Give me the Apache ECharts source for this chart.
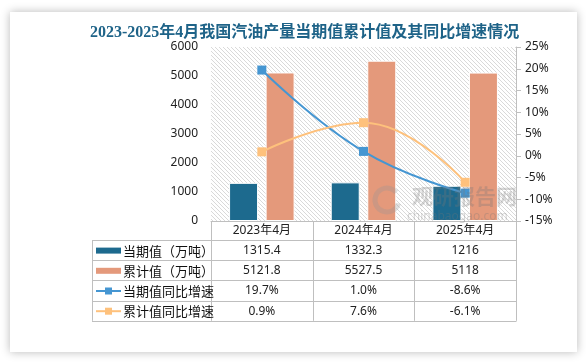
<!DOCTYPE html>
<html>
<head>
<meta charset="utf-8">
<script src="https://cdn.jsdelivr.net/npm/echarts@6/dist/echarts.min.js"></script>
<style>
html,body{margin:0;padding:0;background:#ffffff;}
#card{position:absolute;left:10px;top:12px;width:567px;height:340px;background:#fff;box-shadow:0 0 9px rgba(0,0,0,0.28);}
#chart{position:absolute;left:0;top:0;width:586px;height:363px;}
</style>
</head>
<body>
<div id="card"></div>
<div id="chart"></div>
<script>
// ---- data ----
const titleText = '2023-2025年4月我国汽油产量当期值累计值及其同比增速情况';
const categories = ['2023年4月', '2024年4月', '2025年4月'];
const currentValues = [1315.4, 1332.3, 1216];        // 当期值（万吨）
const cumulativeValues = [5121.8, 5527.5, 5118];    // 累计值（万吨）
const currentGrowth = [19.7, 1.0, -8.6];            // 当期值同比增速 %
const cumulativeGrowth = [0.9, 7.6, -6.1];          // 累计值同比增速 %
const seriesNames = ['当期值（万吨）', '累计值（万吨）', '当期值同比增速', '累计值同比增速'];
const leftTicks = [0, 1000, 2000, 3000, 4000, 5000, 6000];
const rightTicks = [-15, -10, -5, 0, 5, 10, 15, 20, 25];

// ---- styles ----
const C_DARK = '#1d6a8e';
const C_ORANGE = '#e4997b';
const C_BLUE = '#4596d2';
const C_YEL = '#fec17c';
const GRID = {left: 211, right: 70, top: 47, bottom: 142};

// hatch pattern
const pc = document.createElement('canvas');
pc.width = 4; pc.height = 4;
const pctx = pc.getContext('2d');
pctx.fillStyle = '#ffffff'; pctx.fillRect(0, 0, 4, 4);
pctx.fillStyle = '#d9d9d9';
for (let i = 0; i < 4; i++) pctx.fillRect(i, i, 1, 1);

const chart = echarts.init(document.getElementById('chart'), null, {renderer: 'canvas'});
const FONT = '"Noto Sans", "Noto Sans CJK SC", sans-serif';

chart.setOption({
  animation: false,
  backgroundColor: 'transparent',
  title: {
    text: titleText, left: 85, top: 20,
    textStyle: {fontFamily: '"Liberation Serif", "Noto Sans CJK SC", serif', fontWeight: 'bold', fontSize: 16, color: '#1e6388'}
  },
  grid: {show: true, left: GRID.left, right: GRID.right, top: GRID.top, bottom: GRID.bottom,
    backgroundColor: {image: pc, repeat: 'repeat'}, borderWidth: 0},
  xAxis: {
    type: 'category', data: categories,
    axisLine: {show: true, lineStyle: {color: '#bfbfbf', width: 1}},
    axisTick: {show: false},
    axisLabel: {show: true, margin: 4, color: '#222', fontSize: 12, fontFamily: FONT}
  },
  yAxis: [
    {type: 'value', min: leftTicks[0], max: leftTicks[leftTicks.length - 1], interval: 1000,
      axisLine: {show: false}, axisTick: {show: false}, splitLine: {show: false},
      axisLabel: {margin: 13, color: '#222', fontSize: 12, fontFamily: FONT, formatter: (v) => String(v)}},
    {type: 'value', position: 'right', min: rightTicks[0], max: rightTicks[rightTicks.length - 1], interval: 5,
      axisLine: {show: true, lineStyle: {color: '#bfbfbf'}},
      axisTick: {show: true, length: 5, lineStyle: {color: '#bfbfbf'}},
      splitLine: {show: false},
      axisLabel: {margin: 9, color: '#222', fontSize: 12, fontFamily: FONT, formatter: (v) => v + '%'}}
  ],
  series: [
    {name: seriesNames[0], type: 'bar', data: currentValues, barWidth: 29, barGap: '26%',
      itemStyle: {color: C_DARK, borderColor: '#fff', borderWidth: 1}, z: 2},
    {name: seriesNames[1], type: 'bar', data: cumulativeValues, barWidth: 29,
      itemStyle: {color: C_ORANGE, borderColor: '#fff', borderWidth: 1}, z: 2},
    {name: seriesNames[2], type: 'line', yAxisIndex: 1, data: currentGrowth, smooth: 0.45,
      symbol: 'rect', symbolSize: 9, lineStyle: {color: C_BLUE, width: 2}, itemStyle: {color: C_BLUE}, z: 5},
    {name: seriesNames[3], type: 'line', yAxisIndex: 1, data: cumulativeGrowth, smooth: 0.45,
      symbol: 'rect', symbolSize: 9, lineStyle: {color: C_YEL, width: 2}, itemStyle: {color: C_YEL}, z: 5}
  ]
});

// ---- data table under the chart, positioned from the axis ----
const xs = categories.map((c) => chart.convertToPixel({xAxisIndex: 0}, c));
const step = xs.length > 1 ? xs[1] - xs[0] : 100;
const plotL = xs[0] - step / 2;
const plotR = xs[xs.length - 1] + step / 2;
const axisY = chart.convertToPixel({yAxisIndex: 0}, 0);
const tableL = 92;
const headerH = 19;
const rowH = 20.2;
const rowTop = axisY + headerH;
const tableB = rowTop + rowH * 4;
const LC = '#bfbfbf';
const g = [];
function hline(x1, x2, y) { g.push({type: 'line', shape: {x1, y1: Math.round(y) + 0.5, x2, y2: Math.round(y) + 0.5}, style: {stroke: LC, lineWidth: 1}, z: 10}); }
function vline(x, y1, y2) { g.push({type: 'line', shape: {x1: Math.round(x) + 0.5, y1, x2: Math.round(x) + 0.5, y2}, style: {stroke: LC, lineWidth: 1}, z: 10}); }
for (let r = 0; r <= 4; r++) hline(tableL, plotR + 0.5, rowTop + r * rowH);
vline(tableL, rowTop, tableB);
vline(plotL, axisY, tableB);
xs.forEach((x) => vline(x + step / 2, axisY, tableB));

const rows = [
  {name: seriesNames[0], vals: currentValues.map(String), kind: 'bar', color: C_DARK},
  {name: seriesNames[1], vals: cumulativeValues.map(String), kind: 'bar', color: C_ORANGE},
  {name: seriesNames[2], vals: currentGrowth.map((v) => v.toFixed(1) + '%'), kind: 'line', color: C_BLUE},
  {name: seriesNames[3], vals: cumulativeGrowth.map((v) => v.toFixed(1) + '%'), kind: 'line', color: C_YEL}
];
rows.forEach((row, r) => {
  const cy = rowTop + r * rowH + rowH / 2 + 0.5;
  if (row.kind === 'bar') {
    g.push({type: 'rect', shape: {x: 96, y: cy - 3, width: 25, height: 6}, style: {fill: row.color}, z: 11});
  } else {
    g.push({type: 'line', shape: {x1: 96, y1: cy, x2: 121, y2: cy}, style: {stroke: row.color, lineWidth: 2}, z: 11});
    g.push({type: 'rect', shape: {x: 105, y: cy - 3.5, width: 7, height: 7}, style: {fill: row.color}, z: 12});
  }
  g.push({type: 'text', style: {text: row.name, x: 123, y: cy, textVerticalAlign: 'middle', verticalAlign: 'middle', fill: '#111', font: '13px "Noto Sans CJK SC", sans-serif'}, z: 11});
  row.vals.forEach((v, i) => {
    g.push({type: 'text', style: {text: v, x: xs[i], y: cy, align: 'center', textAlign: 'center', verticalAlign: 'middle', textVerticalAlign: 'middle', fill: '#222', font: '12px "Noto Sans", sans-serif'}, z: 11});
  });
});

// watermark
g.push({type: 'text', style: {text: '观研报告网', x: 412, y: 196, verticalAlign: 'middle', textVerticalAlign: 'middle', fill: 'rgba(120,120,120,0.3)', font: 'bold 21px "Noto Sans CJK SC", sans-serif'}, z: 20});
g.push({type: 'text', style: {text: 'chinabaogao.com', x: 407, y: 217, verticalAlign: 'middle', textVerticalAlign: 'middle', fill: 'rgba(120,120,120,0.3)', font: '12px "Noto Sans", sans-serif'}, z: 20});
g.push({type: 'arc', shape: {cx: 387, cy: 200, r: 12, startAngle: 0.3, endAngle: 5.6}, style: {stroke: 'rgba(150,150,150,0.3)', lineWidth: 5, fill: null}, z: 20});

chart.setOption({graphic: g});
</script>
</body>
</html>
